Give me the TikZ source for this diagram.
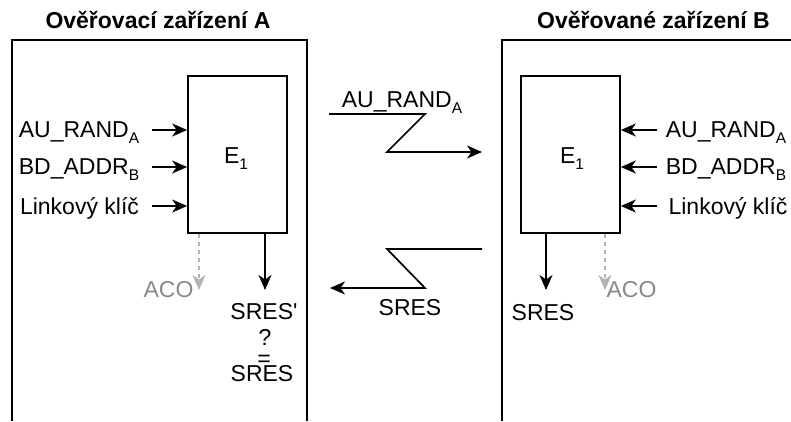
\documentclass[tikz,border=0pt]{standalone}
\usepackage{fontspec}
\setmainfont{Liberation Sans}
\usetikzlibrary{arrows.meta}
\definecolor{acoline}{HTML}{B3B3B3}
\definecolor{acotext}{HTML}{888888}
% lowered index in the body font
\newcommand\lowidx[1]{\raisebox{-6pt}{\fontsize{15.5}{15.5}\selectfont #1}}
\begin{document}
\begin{tikzpicture}[x=1pt,y=-1pt,
  txt/.style={font=\fontsize{23}{27}\selectfont, inner sep=0pt, anchor=base},
  ttl/.style={font=\fontsize{23}{27}\selectfont\bfseries, inner sep=0pt, anchor=base},
  acolbl/.style={txt, text=acotext},
  frame/.style={line width=1.8pt},
  unit/.style={draw, line width=1.7pt, minimum width=99pt, minimum height=157pt, inner sep=0pt},
  wire/.style={line width=1.7pt, -{Stealth[length=15pt,width=13pt,inset=4.5pt]}},
  aux/.style={line width=1.7pt, draw=acoline, dash pattern=on 4pt off 4pt,
    -{Stealth[length=15pt,width=13pt,inset=4.5pt,color=acoline]}}]
\useasboundingbox (0,0) rectangle (791,421);

% device frames, open at the bottom
\draw[frame] (12,421) -- (12,40) -- (307,40) -- (307,421);
\draw[frame] (791,40) -- (502,40) -- (502,421);
\node[ttl] (ttlA) at (158,28) {Ověřovací zařízení A};
\node[ttl] (ttlB) at (653.5,28) {Ověřované zařízení B};

% E1 blocks
\node[unit] (ea) at (237.5,154.5) {};
\node[unit] (eb) at (570.5,154.5) {};
\node[txt] (ealbl) at (236,163) {E\lowidx{1}};
\node[txt] (eblbl) at (572,163) {E\lowidx{1}};

% inputs of device A
\node[txt] (la1) at (79,137) {AU\_RAND\lowidx{A}};
\node[txt] (la2) at (79,174) {BD\_ADDR\lowidx{B}};
\node[txt] (la3) at (79.5,214) {Linkový klíč};
\coordinate (ta1) at (152,130);
\coordinate (ta2) at (152,167);
\coordinate (ta3) at (152,206);
\draw[wire] (ta1) -- (ta1 -| ea.west);
\draw[wire] (ta2) -- (ta2 -| ea.west);
\draw[wire] (ta3) -- (ta3 -| ea.west);

% inputs of device B
\node[txt] (lb1) at (726,137) {AU\_RAND\lowidx{A}};
\node[txt] (lb2) at (726,174) {BD\_ADDR\lowidx{B}};
\node[txt] (lb3) at (728,214) {Linkový klíč};
\coordinate (tb1) at (657,130);
\coordinate (tb2) at (657,167);
\coordinate (tb3) at (657,206);
\draw[wire] (tb1) -- (tb1 -| eb.east);
\draw[wire] (tb2) -- (tb2 -| eb.east);
\draw[wire] (tb3) -- (tb3 -| eb.east);

% outputs of device A
\coordinate (acoA) at (199,290);
\coordinate (resA) at (265,290);
\draw[aux] (ea.south -| acoA) -- (acoA);
\draw[wire] (ea.south -| resA) -- (resA);
\node[acolbl] (acoAlbl) at (168.5,297) {ACO};
\node[txt] (r1) at (264,319) {SRES\textquotesingle};
\node[txt] (r2) at (265,345) {?};
\node[txt] (r3) at (264,366) {=};
\node[txt] (r4) at (262,381) {SRES};

% outputs of device B
\coordinate (resB) at (546,290);
\coordinate (acoB) at (605,290);
\draw[wire] (eb.south -| resB) -- (resB);
\draw[aux] (eb.south -| acoB) -- (acoB);
\node[txt] (sresB) at (543,320) {SRES};
\node[acolbl] (acoBlbl) at (631.5,297) {ACO};

% radio link A -> B
\coordinate (zA0) at (329,114);
\coordinate (zA1) at (482,152);
\draw[wire] (zA0) -- (425,114) -- (387,152) -- (zA1);
\node[txt] (zAlbl) at (402,107) {AU\_RAND\lowidx{A}};

% radio link B -> A
\coordinate (zB0) at (482,249);
\coordinate (zB1) at (330,288);
\draw[wire] (zB0) -- (387,249) -- (425,288) -- (zB1);
\node[txt] (zBlbl) at (410,315) {SRES};
\end{tikzpicture}
\end{document}
